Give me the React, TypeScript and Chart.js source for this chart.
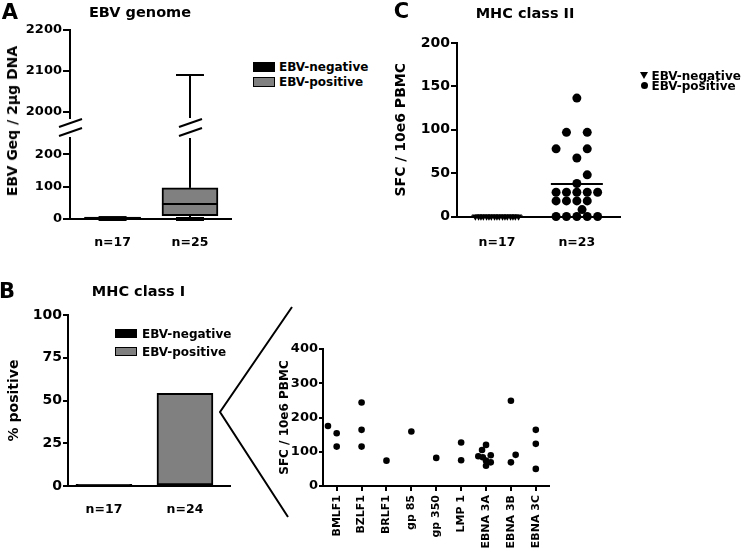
import React, { useEffect, useRef } from "react";
import { Chart, registerables } from "chart.js";

Chart.register(...registerables);

const FONT = "'DejaVu Sans', 'Liberation Sans', Arial, sans-serif";
const BLACK = "#000000";
const GREY = "#808080";

Chart.defaults.font.family = FONT;
Chart.defaults.color = BLACK;

// ---------- Panel A: EBV genome (box plot with broken axis) ----------
const genomeGroups = ["n=17", "n=25"];
const genomeMin = [0, 0];
const genomeQ1 = [0, 10];
const genomeMedian = [3, 46];
const genomeQ3 = [6, 96];
const genomeMax = [6, 2090];
const genomeFill = [BLACK, GREY];
const genomeTopTicks = [2000, 2100, 2200];
const genomeBottomTicks = [0, 100, 200];

// ---------- Panel B left: MHC class I % positive ----------
const classIGroups = ["n=17", "n=24"];
const classIPercent = [1, 54.2];
const classIFill = [BLACK, GREY];
const classITicks = [0, 25, 50, 75, 100];

// ---------- Panel B right: responses per antigen ----------
const antigens = ["BMLF1", "BZLF1", "BRLF1", "gp 85", "gp 350", "LMP 1", "EBNA 3A", "EBNA 3B", "EBNA 3C"];
const sfcAntigen = [1, 1, 1, 2, 2, 2, 3, 4, 5, 6, 6, 7, 7, 7, 7, 7, 7, 7, 7, 8, 8, 8, 9, 9, 9];
const sfcJitter = [-0.35, 0, 0, 0, 0, 0, 0, 0, 0, 0, 0, 0, -0.16, -0.31, -0.13, 0.19, 0, 0.19, 0, 0, 0, 0.19, 0, 0, 0];
const sfcValue = [175, 154, 115, 244, 164, 115, 74, 159, 82, 127, 75, 120, 105, 87, 84, 90, 74, 69, 59, 249, 69, 91, 164, 123, 50];
const antigenTicks = [0, 100, 200, 300, 400];

// ---------- Panel C: MHC class II ----------
const classIIGroups = ["n=17", "n=23"];
const classIINegSfc = [0, 0, 0, 0, 0, 0, 0, 0, 0, 0, 0, 0, 0, 0, 0, 0, 0];
const classIINegJitter = [-0.27, -0.23, -0.2, -0.17, -0.13, -0.1, -0.07, -0.03, 0, 0.03, 0.07, 0.1, 0.13, 0.17, 0.2, 0.23, 0.27];
const classIIPosSfc = [136.5, 97, 97, 78, 78, 67.5, 48, 38, 28, 28, 28, 28, 28, 18, 18, 18, 18, 8, 0, 0, 0, 0, 0];
const classIIPosJitter = [0, -0.13, 0.13, -0.26, 0.13, 0, 0.13, 0, -0.26, -0.13, 0, 0.13, 0.26, -0.26, -0.13, 0, 0.13, 0.065, -0.26, -0.13, 0, 0.13, 0.26];
const classIITicks = [0, 50, 100, 150, 200];

function font(size: number) {
  return { family: FONT, size, weight: "bold" as const };
}

function yScale(o: any) {
  return {
    type: "linear",
    position: "left",
    min: o.min,
    max: o.max,
    afterBuildTicks: (s: any) => {
      s.ticks = o.ticks.map((v: number) => ({ value: v }));
    },
    afterFit: (s: any) => {
      s.width = o.width;
    },
    grid: { display: true, drawOnChartArea: false, drawTicks: true, tickLength: o.tickLength, color: BLACK, lineWidth: 2 },
    border: { display: true, color: BLACK, width: 2 },
    ticks: {
      color: BLACK,
      font: font(o.tickSize || 13),
      padding: o.tickPad,
      callback: (v: any) => String(v),
    },
    title: o.title
      ? { display: true, text: o.title, color: BLACK, font: font(o.titleSize), padding: { top: o.titlePad, bottom: 0 } }
      : { display: false },
  };
}

function xScale(o: any) {
  return {
    type: "linear",
    position: "bottom",
    min: o.min,
    max: o.max,
    offset: false,
    afterBuildTicks: (s: any) => {
      s.ticks = o.labels.map((_: string, i: number) => ({ value: i + 1 }));
    },
    afterFit: (s: any) => {
      s.height = o.height;
    },
    grid: o.marks
      ? { display: true, offset: false, drawOnChartArea: false, drawTicks: true, tickLength: o.marks, color: BLACK, lineWidth: 2 }
      : { display: false, offset: false, drawTicks: false },
    border: { display: true, color: BLACK, width: 2 },
    ticks: {
      color: BLACK,
      font: font(o.size),
      padding: o.pad,
      autoSkip: false,
      maxRotation: o.rotate || 0,
      minRotation: o.rotate || 0,
      callback: (_v: any, i: number) => o.labels[i],
    },
  };
}

function baseOptions(padding: any) {
  return {
    responsive: false,
    animation: false,
    devicePixelRatio: 1,
    events: [],
    layout: { padding },
    plugins: { legend: { display: false }, tooltip: { enabled: false } },
  };
}

// Box-and-whisker drawing through the chart's own scales
const boxPlugin = {
  id: "boxWhisker",
  afterDatasetsDraw(chart: any) {
    const { ctx, scales } = chart;
    const x = scales.x;
    const y = scales.y;
    const meta = chart.getDatasetMeta(0);
    const inRange = (v: number) => v >= y.min && v <= y.max;
    const seg = (cx: number, a: number, b: number) => {
      const lo = Math.max(Math.min(a, b), y.min);
      const hi = Math.min(Math.max(a, b), y.max);
      if (lo >= hi) return;
      ctx.beginPath();
      ctx.moveTo(cx, y.getPixelForValue(lo));
      ctx.lineTo(cx, y.getPixelForValue(hi));
      ctx.stroke();
    };
    const hline = (cx: number, half: number, v: number, lw: number) => {
      if (!inRange(v)) return;
      ctx.lineWidth = lw;
      ctx.beginPath();
      ctx.moveTo(cx - half, y.getPixelForValue(v));
      ctx.lineTo(cx + half, y.getPixelForValue(v));
      ctx.stroke();
      ctx.lineWidth = 2;
    };
    ctx.save();
    ctx.strokeStyle = BLACK;
    ctx.lineWidth = 2;
    genomeGroups.forEach((_, i) => {
      const cx = x.getPixelForValue(i + 1);
      const bw = meta.data[i] ? meta.data[i].width : 56;
      seg(cx, genomeQ3[i], genomeMax[i]);
      seg(cx, genomeMin[i], genomeQ1[i]);
      hline(cx, bw / 4, genomeMax[i], 2);
      hline(cx, bw / 4, genomeMin[i], 4);
      hline(cx, bw / 2, genomeMedian[i], 2);
    });
    ctx.restore();
  },
};

// Axis break marks (drawn above the lower segment of panel A)
const breakPlugin = {
  id: "axisBreak",
  afterDraw(chart: any) {
    const { ctx, chartArea, scales } = chart;
    const xs = [chartArea.left];
    genomeMax.forEach((m, i) => {
      if (m > scales.y.max) xs.push(scales.x.getPixelForValue(i + 1));
    });
    ctx.save();
    ctx.strokeStyle = BLACK;
    ctx.lineWidth = 2;
    xs.forEach((cx) => {
      [2, 11].forEach((dy) => {
        ctx.beginPath();
        ctx.moveTo(cx - 11, chartArea.top - dy);
        ctx.lineTo(cx + 12, chartArea.top - dy - 8);
        ctx.stroke();
      });
    });
    ctx.restore();
  },
};

// Mean line for panel C
const meanPlugin = {
  id: "meanLine",
  afterDatasetsDraw(chart: any) {
    const { ctx, scales } = chart;
    ctx.save();
    ctx.strokeStyle = BLACK;
    ctx.lineWidth = 2;
    [classIINegSfc, classIIPosSfc].forEach((vals, i) => {
      const m = vals.reduce((a, b) => a + b, 0) / vals.length;
      const cx = scales.x.getPixelForValue(i + 1);
      const py = scales.y.getPixelForValue(m);
      ctx.beginPath();
      ctx.moveTo(cx - 26, py);
      ctx.lineTo(cx + 26, py);
      ctx.stroke();
    });
    ctx.restore();
  },
};

function genomeDataset() {
  return {
    data: genomeGroups.map((_, i) => ({ x: i + 1, y: [genomeQ1[i], genomeQ3[i]] })),
    backgroundColor: genomeFill,
    borderColor: BLACK,
    borderWidth: 2,
    borderSkipped: false,
    barThickness: 56,
  };
}

const genomeTopConfig = () => ({
  type: "bar",
  data: { datasets: [genomeDataset()] },
  options: {
    ...baseOptions({ left: 0, top: 30, right: 19, bottom: 12 }),
    scales: {
      x: { type: "linear", display: false, min: 0.45, max: 2.53, offset: false },
      y: yScale({ min: 1985, max: 2200, ticks: genomeTopTicks, width: 70, tickLength: 7, tickPad: 1, tickSize: 13 }),
    },
  },
  plugins: [boxPlugin],
});

const genomeBottomConfig = () => ({
  type: "bar",
  data: { datasets: [genomeDataset()] },
  options: {
    ...baseOptions({ left: 0, top: 38, right: 19, bottom: 11 }),
    scales: {
      x: xScale({ min: 0.45, max: 2.53, labels: genomeGroups, height: 30, size: 12.5, pad: 16.6 }),
      y: yScale({ min: 0, max: 250, ticks: genomeBottomTicks, width: 70, tickLength: 7, tickPad: 1, tickSize: 13 }),
    },
  },
  plugins: [boxPlugin, breakPlugin],
});

const classIConfig = () => ({
  type: "bar",
  data: {
    datasets: [
      {
        data: classIGroups.map((_, i) => ({ x: i + 1, y: classIPercent[i] })),
        backgroundColor: classIFill,
        borderColor: BLACK,
        borderWidth: 2,
        borderSkipped: false,
        barThickness: 56,
      },
    ],
  },
  options: {
    ...baseOptions({ left: 0, top: 20, right: 20, bottom: 9 }),
    scales: {
      x: xScale({ min: 0.556, max: 2.556, labels: classIGroups, height: 40, size: 12.5, pad: 16.6 }),
      y: yScale({
        min: 0, max: 100, ticks: classITicks, width: 68, tickLength: 5, tickPad: 1, tickSize: 14,
        title: "% positive", titleSize: 14, titlePad: 6,
      }),
    },
  },
});

const antigenConfig = () => ({
  type: "scatter",
  data: {
    datasets: [
      {
        data: sfcValue.map((v, i) => ({ x: sfcAntigen[i] + sfcJitter[i], y: v })),
        backgroundColor: BLACK,
        borderColor: BLACK,
        borderWidth: 0,
        pointRadius: 3.3,
        clip: false,
      },
    ],
  },
  options: {
    ...baseOptions({ left: 0, top: 19, right: 11, bottom: 0 }),
    scales: {
      x: xScale({ min: 0.45, max: 9.53, labels: antigens, height: 65, size: 11, pad: 4, rotate: 90, marks: 5 }),
      y: yScale({
        min: 0, max: 400, ticks: antigenTicks, width: 63, tickLength: 4, tickPad: 1, tickSize: 13,
        title: "SFC / 10e6 PBMC", titleSize: 12, titlePad: 17.8,
      }),
    },
  },
});

const classIIConfig = () => ({
  type: "scatter",
  data: {
    datasets: [
      {
        data: classIINegSfc.map((v, i) => ({ x: 1 + classIINegJitter[i], y: v })),
        pointStyle: "triangle",
        rotation: 180,
        pointRadius: 4.2,
        backgroundColor: BLACK,
        borderColor: BLACK,
        borderWidth: 0,
        clip: false,
      },
      {
        data: classIIPosSfc.map((v, i) => ({ x: 2 + classIIPosJitter[i], y: v })),
        pointStyle: "circle",
        pointRadius: 4.5,
        backgroundColor: BLACK,
        borderColor: BLACK,
        borderWidth: 0,
        clip: false,
      },
    ],
  },
  options: {
    ...baseOptions({ left: 0, top: 23, right: 20, bottom: 13.5 }),
    scales: {
      x: xScale({ min: 0.5, max: 2.54, labels: classIIGroups, height: 30, size: 12.5, pad: 19.1 }),
      y: yScale({
        min: 0, max: 200, ticks: classIITicks, width: 77, tickLength: 6, tickPad: 1, tickSize: 14,
        title: "SFC / 10e6 PBMC", titleSize: 14, titlePad: 12.6,
      }),
    },
  },
  plugins: [meanPlugin],
});

function ChartCanvas({ x, y, w, h, config }: any) {
  const ref = useRef<HTMLCanvasElement | null>(null);
  useEffect(() => {
    if (!ref.current) return;
    const chart = new Chart(ref.current, config() as any);
    return () => chart.destroy();
  }, []);
  return (
    <canvas
      ref={ref}
      width={w}
      height={h}
      style={{ position: "absolute", left: x, top: y, width: w, height: h }}
    />
  );
}

function Txt({ x, y, text, size, rotate = false, anchor = "center" }: any) {
  const tr = anchor === "center" ? "translate(-50%,-50%)" : "translate(0,-50%)";
  return (
    <div
      style={{
        position: "absolute",
        left: x,
        top: y,
        transform: tr + (rotate ? " rotate(-90deg)" : ""),
        font: `bold ${size}px ${FONT}`,
        lineHeight: 1,
        whiteSpace: "nowrap",
        color: BLACK,
      }}
    >
      {text}
    </div>
  );
}

function Swatch({ x, y, w, h, color }: any) {
  return (
    <div
      style={{
        position: "absolute",
        left: x,
        top: y,
        width: w,
        height: h,
        background: color,
        border: `1.5px solid ${BLACK}`,
        boxSizing: "border-box",
      }}
    />
  );
}

export default function App() {
  return (
    <div
      style={{
        position: "fixed",
        left: 0,
        top: 0,
        width: 742,
        height: 551,
        background: "#ffffff",
        overflow: "hidden",
      }}
    >
      {/* Panel A */}
      <ChartCanvas x={0} y={0} w={250} h={130} config={genomeTopConfig} />
      <ChartCanvas x={0} y={100} w={250} h={160} config={genomeBottomConfig} />
      <Txt x={10} y={12} text="A" size={21} />
      <Txt x={140} y={12} text="EBV genome" size={14.5} />
      <Txt x={12} y={121} text="EBV Geq / 2µg DNA" size={14} rotate />
      <Swatch x={253} y={62} w={22} h={10} color={BLACK} />
      <Txt x={279} y={67} text="EBV-negative" size={12} anchor="left" />
      <Swatch x={253} y={77} w={22} h={10} color={GREY} />
      <Txt x={279} y={82} text="EBV-positive" size={12} anchor="left" />

      {/* Panel C */}
      <ChartCanvas x={380} y={20} w={260} h={240} config={classIIConfig} />
      <Txt x={401.5} y={11} text="C" size={21} />
      <Txt x={525} y={12.5} text="MHC class II" size={14.5} />
      <div
        style={{
          position: "absolute",
          left: 639.5,
          top: 72,
          width: 0,
          height: 0,
          borderLeft: "4px solid transparent",
          borderRight: "4px solid transparent",
          borderTop: `7px solid ${BLACK}`,
        }}
      />
      <Txt x={651.5} y={75.5} text="EBV-negative" size={12} anchor="left" />
      <div
        style={{
          position: "absolute",
          left: 640.5,
          top: 82,
          width: 7,
          height: 7,
          borderRadius: "50%",
          background: BLACK,
        }}
      />
      <Txt x={651.5} y={86} text="EBV-positive" size={12} anchor="left" />

      {/* Panel B */}
      <ChartCanvas x={0} y={295} w={250} h={240} config={classIConfig} />
      <ChartCanvas x={260} y={330} w={300} h={221} config={antigenConfig} />
      <Txt x={7} y={291} text="B" size={21} />
      <Txt x={138.5} y={291} text="MHC class I" size={14.5} />
      <Swatch x={115} y={329} w={22} h={9} color={BLACK} />
      <Txt x={142} y={333.5} text="EBV-negative" size={12} anchor="left" />
      <Swatch x={115} y={347} w={22} h={9} color={GREY} />
      <Txt x={142} y={351.5} text="EBV-positive" size={12} anchor="left" />
      <svg
        width={742}
        height={551}
        style={{ position: "absolute", left: 0, top: 0, pointerEvents: "none" }}
      >
        <polyline points="292,307 220,412 288,517" fill="none" stroke={BLACK} strokeWidth={2} />
      </svg>
    </div>
  );
}
